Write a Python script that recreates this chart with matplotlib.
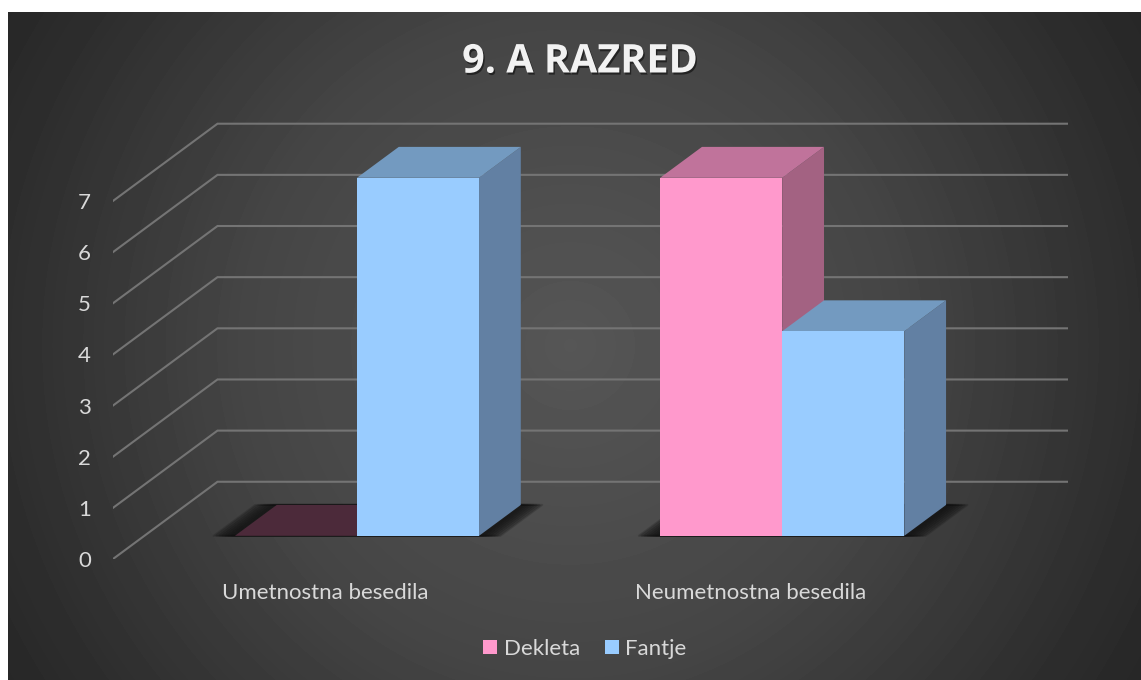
import numpy as np
import matplotlib.pyplot as plt
import matplotlib.patheffects as pe
from matplotlib.patches import Patch, Polygon

categories = ["Umetnostna besedila", "Neumetnostna besedila"]
dekleta = [0, 7]
fantje = [7, 4]
value_ticks = [0, 1, 2, 3, 4, 5, 6, 7]

W, H = 1141, 680
text_color = "#d9d9d9"
grid_color = "#747474"

# depth of the floor in data units (x: categories, y: values)
depth_x = 0.2457
depth_y = 1.51
bar_front = 0.30
bar_back = 0.70
bar_width = 0.287

plt.rcParams['font.family'] = ['Lato', 'DejaVu Sans']


def proj(x, v, d):
    return (x + d * depth_x, v + d * depth_y)


def draw_shadow(ax, x0, x1):
    # soft shadow, mostly spreading sideways
    for e in [0.05, 0.043, 0.036, 0.029, 0.022, 0.015, 0.008]:
        corners = [proj(x0 - e, 0, bar_front), proj(x1 + e, 0, bar_front),
                   proj(x1 + e, 0, bar_back), proj(x0 - e, 0, bar_back)]
        ax.add_patch(Polygon(corners, closed=True, facecolor="#111111", edgecolor="#111111",
                             linewidth=1.5, alpha=0.2, joinstyle='round', zorder=2))


def draw_bar(ax, x0, x1, v, front, top, side, zero):
    if v == 0:
        ax.add_patch(Polygon([proj(x0, 0, bar_front), proj(x1, 0, bar_front),
                              proj(x1, 0, bar_back), proj(x0, 0, bar_back)],
                             closed=True, facecolor=zero, edgecolor='none', zorder=3))
        return
    ax.add_patch(Polygon([proj(x1, 0, bar_front), proj(x1, 0, bar_back),
                          proj(x1, v, bar_back), proj(x1, v, bar_front)],
                         closed=True, facecolor=side, edgecolor='none', zorder=3))
    ax.add_patch(Polygon([proj(x0, v, bar_front), proj(x1, v, bar_front),
                          proj(x1, v, bar_back), proj(x0, v, bar_back)],
                         closed=True, facecolor=top, edgecolor='none', zorder=3))
    ax.add_patch(Polygon([proj(x0, 0, bar_front), proj(x1, 0, bar_front),
                          proj(x1, v, bar_front), proj(x0, v, bar_front)],
                         closed=True, facecolor=front, edgecolor='none', zorder=3))


fig = plt.figure(figsize=(W / 100, H / 100), dpi=100, facecolor='white')

# panel background
bg = fig.add_axes([0, 0, 1, 1], zorder=0)
yy, xx = np.mgrid[12:H, 8:W]
r = np.hypot(xx - 570, yy - 345) / 660
shade = np.interp(r, [0, 0.5, 0.86, 1.0], [0x56, 0x45, 0x2e, 0x27]) / 255
bg.imshow(shade, cmap='gray', vmin=0, vmax=1, extent=[8, W, H, 12], aspect='auto')
bg.set_xlim(0, W)
bg.set_ylim(H, 0)
bg.axis('off')

ax = fig.add_axes([113 / W, (H - 559) / H, 955 / W, 438 / H], zorder=1)
ax.patch.set_alpha(0)
ax.set_xlim(-0.5, -0.5 + 955 / 425.25)
ax.set_ylim(0, 438 / 51.15)
for s in ax.spines.values():
    s.set_visible(False)

# gridlines: side wall part then back wall
for v in value_ticks:
    xs = [-0.5, -0.5 + depth_x, 1.5 + depth_x]
    ys = [v, v + depth_y, v + depth_y]
    ax.plot(xs, ys, color=grid_color, lw=1.5, zorder=1, solid_joinstyle='miter')

for i in range(len(categories)):
    draw_shadow(ax, i - bar_width, i + bar_width)

for i in range(len(categories)):
    draw_bar(ax, i - bar_width, i, dekleta[i], "#ff99cc", "#c0739b", "#a36282", "#4c2a3a")
    draw_bar(ax, i, i + bar_width, fantje[i], "#99ccff", "#739ac0", "#6280a3", "#2a3a4c")

ax.set_xticks(range(len(categories)))
ax.set_xticklabels(categories)
ax.set_yticks(value_ticks)
ax.tick_params(axis='both', length=0, labelsize=16, labelcolor=text_color)
ax.tick_params(axis='x', pad=17)
ax.tick_params(axis='y', pad=16)

handles = [Patch(facecolor="#ff99cc", label="Dekleta"), Patch(facecolor="#99ccff", label="Fantje")]
fig.legend(handles=handles, loc='center', bbox_to_anchor=(585 / W, 1 - 649 / H), ncol=2,
           frameon=False, fontsize=16, labelcolor=text_color, handlelength=0.63,
           handleheight=0.63, handletextpad=0.3, columnspacing=1.1)

fig.text(580 / W, 1 - 62 / H, "9. A RAZRED", ha='center', va='center', fontsize=28.5,
         fontweight='bold', family=['Open Sans', 'DejaVu Sans'], color="#f2f2f2",
         path_effects=[pe.withSimplePatchShadow(offset=(1, -1.5), shadow_rgbFace='black', alpha=0.5)])

fig.savefig('out.png', dpi=100)
plt.close()
